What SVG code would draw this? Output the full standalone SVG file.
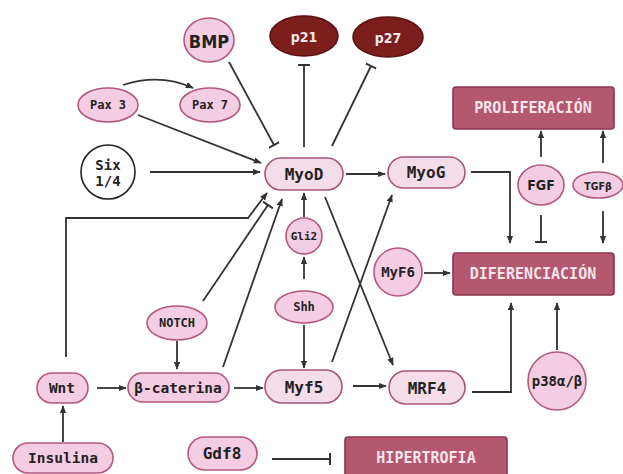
<svg xmlns="http://www.w3.org/2000/svg" width="623" height="474" viewBox="0 0 623 474">
<defs>
<style>
.n{fill:#f5cde3;stroke:#b3587f;stroke-width:1.6}
.m{fill:#f4dce8;stroke:#a9557a;stroke-width:1.6}
.d{fill:#7c1d1e;stroke:#5b1212;stroke-width:1.6}
.w{fill:#ffffff;stroke:#222;stroke-width:1.6}
.b{fill:#b4586f;stroke:#8a3550;stroke-width:1.6}
.t{font-family:"DejaVu Sans Mono","Liberation Mono",monospace;font-weight:bold;fill:#222;text-anchor:middle;dominant-baseline:central}
.s{font-family:"DejaVu Sans Condensed","DejaVu Sans",sans-serif;font-weight:bold;fill:#222;text-anchor:middle;dominant-baseline:central}
.bt{font-family:"DejaVu Sans Mono","Liberation Mono",monospace;font-weight:bold;fill:#f7e4ec;text-anchor:middle;dominant-baseline:central;font-size:15px}
#edges line,#edges polyline,#edges path{stroke:#333;stroke-width:1.8;fill:none}
</style>
<marker id="arr" viewBox="0 0 10 10" refX="9" refY="5" markerWidth="8" markerHeight="8" markerUnits="userSpaceOnUse" orient="auto"><path d="M0,1 L10,5 L0,9 z" fill="#333"/></marker>
<marker id="tee" viewBox="0 0 4 12" refX="2" refY="6" markerWidth="4" markerHeight="12" markerUnits="userSpaceOnUse" orient="auto"><path d="M2,0 V12" stroke="#333" stroke-width="2"/></marker>
</defs>
<rect width="623" height="474" fill="#ffffff"/>

<g id="edges">
<path d="M123,85 Q160,73 193,88" marker-end="url(#arr)"/>
<line x1="229" y1="62" x2="274" y2="145" marker-end="url(#tee)"/>
<line x1="304" y1="147" x2="304" y2="65" marker-end="url(#tee)"/>
<line x1="332" y1="146" x2="371" y2="66" marker-end="url(#tee)"/>
<line x1="138" y1="115" x2="261" y2="163" marker-end="url(#arr)"/>
<line x1="150" y1="172" x2="260" y2="172" marker-end="url(#arr)"/>
<polyline points="66,357 66,218 248,218 267,193" marker-end="url(#arr)"/>
<line x1="203" y1="301" x2="268" y2="205" marker-end="url(#tee)"/>
<line x1="223" y1="367" x2="282" y2="199" marker-end="url(#arr)"/>
<line x1="304" y1="217" x2="304" y2="193" marker-end="url(#arr)"/>
<line x1="304" y1="279" x2="304" y2="257" marker-end="url(#arr)"/>
<line x1="304" y1="325" x2="304" y2="368" marker-end="url(#arr)"/>
<line x1="346" y1="174" x2="385" y2="174" marker-end="url(#arr)"/>
<line x1="325" y1="197" x2="393" y2="365" marker-end="url(#arr)"/>
<line x1="332" y1="362" x2="392" y2="195" marker-end="url(#arr)"/>
<line x1="353" y1="386" x2="386" y2="386" marker-end="url(#arr)"/>
<line x1="97" y1="388" x2="126" y2="388" marker-end="url(#arr)"/>
<line x1="234" y1="388" x2="263" y2="388" marker-end="url(#arr)"/>
<line x1="177" y1="341" x2="177" y2="369" marker-end="url(#arr)"/>
<line x1="63" y1="442" x2="63" y2="406" marker-end="url(#arr)"/>
<polyline points="471,172 510,172 510,243" marker-end="url(#arr)"/>
<line x1="541" y1="157" x2="541" y2="131" marker-end="url(#arr)"/>
<line x1="541" y1="215" x2="541" y2="242" marker-end="url(#tee)"/>
<line x1="603" y1="163" x2="603" y2="131" marker-end="url(#arr)"/>
<line x1="603" y1="211" x2="603" y2="243" marker-end="url(#arr)"/>
<line x1="424" y1="273" x2="450" y2="273" marker-end="url(#arr)"/>
<polyline points="472,392 511,392 511,303" marker-end="url(#arr)"/>
<line x1="557" y1="350" x2="557" y2="303" marker-end="url(#arr)"/>
<line x1="272" y1="459" x2="330" y2="459" marker-end="url(#tee)"/>
</g>

<g id="BMP"><ellipse class="n" cx="209" cy="40" rx="25" ry="22"/><text class="s" x="209" y="41" font-size="18">BMP</text></g>
<g id="p21"><ellipse class="d" cx="304" cy="36" rx="34" ry="20"/><text class="s" x="304" y="37" font-size="14" style="fill:#f6e6e6">p21</text></g>
<g id="p27"><ellipse class="d" cx="388" cy="37" rx="35" ry="20"/><text class="s" x="388" y="38" font-size="14" style="fill:#f6e6e6">p27</text></g>
<g id="Pax3"><ellipse class="n" cx="108" cy="105" rx="30" ry="17"/><text class="t" x="108" y="105" font-size="12">Pax 3</text></g>
<g id="Pax7"><ellipse class="n" cx="210" cy="105" rx="30" ry="17"/><text class="t" x="210" y="105" font-size="12">Pax 7</text></g>
<g id="Six"><circle class="w" cx="108" cy="172" r="27"/><text class="t" x="108" y="165" font-size="14">Six</text><text class="t" x="108" y="181" font-size="14">1/4</text></g>
<g id="MyoD"><rect class="m" x="265" y="158" width="78" height="32" rx="16"/><text class="t" x="304" y="174" font-size="16">MyoD</text></g>
<g id="MyoG"><rect class="m" x="388" y="157" width="77" height="31" rx="15.5"/><text class="t" x="426" y="172" font-size="16">MyoG</text></g>
<g id="Gli2"><circle class="n" cx="304" cy="236" r="18"/><text class="t" x="304" y="236" font-size="11">Gli2</text></g>
<g id="Shh"><ellipse class="n" cx="304" cy="307" rx="29" ry="16"/><text class="t" x="304" y="307" font-size="12">Shh</text></g>
<g id="NOTCH"><ellipse class="n" cx="177" cy="323" rx="30" ry="17"/><text class="t" x="177" y="323" font-size="12">NOTCH</text></g>
<g id="Wnt"><rect class="n" x="37" y="373" width="51" height="30" rx="15"/><text class="t" x="62" y="388" font-size="14.5">Wnt</text></g>
<g id="bcat"><rect class="n" x="128" y="373" width="101" height="29" rx="14.5"/><text class="t" x="178" y="388" font-size="14.5">β-caterina</text></g>
<g id="Myf5"><rect class="m" x="265" y="370" width="77" height="33" rx="16.5"/><text class="t" x="304" y="387" font-size="16">Myf5</text></g>
<g id="MRF4"><rect class="m" x="389" y="371" width="76" height="33" rx="16.5"/><text class="t" x="427" y="388" font-size="16">MRF4</text></g>
<g id="Insulina"><rect class="n" x="13" y="443" width="100" height="30" rx="15"/><text class="t" x="63" y="458" font-size="14.5">Insulina</text></g>
<g id="Gdf8"><rect class="n" x="188" y="437" width="69" height="33" rx="16.5"/><text class="t" x="222" y="453" font-size="16">Gdf8</text></g>
<g id="HIPERTROFIA"><rect class="b" x="345" y="437" width="162" height="42" rx="3"/><text class="bt" x="426" y="458">HIPERTROFIA</text></g>
<g id="PROLIFERACION"><rect class="b" x="453" y="87" width="161" height="42" rx="3"/><text class="bt" x="533" y="108">PROLIFERACIÓN</text></g>
<g id="DIFERENCIACION"><rect class="b" x="453" y="253" width="161" height="42" rx="3"/><text class="bt" x="533" y="274">DIFERENCIACIÓN</text></g>
<g id="FGF"><ellipse class="n" cx="541" cy="185" rx="23" ry="20"/><text class="s" x="541" y="185" font-size="14">FGF</text></g>
<g id="TGFb"><ellipse class="n" cx="598" cy="185" rx="25" ry="13"/><text class="s" x="598" y="186" font-size="10.5">TGFβ</text></g>
<g id="MyF6"><circle class="n" cx="398" cy="272" r="24"/><text class="t" x="398" y="272" font-size="14">MyF6</text></g>
<g id="p38"><circle class="n" cx="557" cy="381" r="29"/><text class="t" x="557" y="381" font-size="14">p38α/β</text></g>
</svg>
